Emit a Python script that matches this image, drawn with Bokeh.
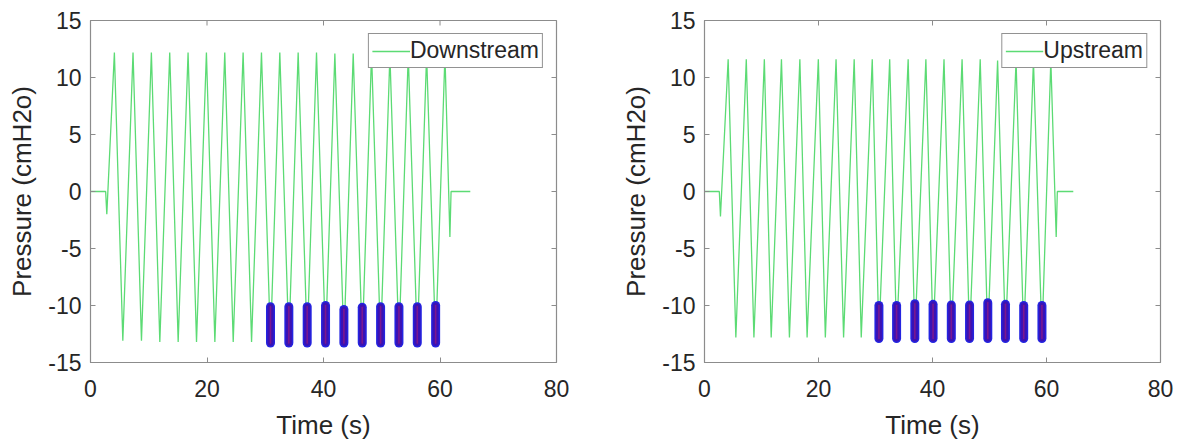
from bokeh.plotting import figure
from bokeh.layouts import row
from bokeh.models import FixedTicker, Legend, LegendItem, Range1d
from bokeh.embed import file_html
from bokeh.resources import INLINE

# ---------------- data ----------------
x_ticks = [0, 20, 40, 60, 80]
y_ticks = [-15, -10, -5, 0, 5, 10, 15]

# Downstream pressure trace (turning points, s / cmH2O)
down_t = [0, 2.6, 2.8, 4.1, 5.55, 7.3, 8.75, 10.45, 11.9, 13.6, 15.05, 16.75, 18.2,
          19.9, 21.35, 23.05, 24.5, 26.2, 27.65, 29.35, 30.9, 32.5, 34.05, 35.65,
          37.2, 38.8, 40.35, 41.95, 43.5, 45.1, 46.65, 48.25, 49.8, 51.4, 52.95,
          54.55, 56.1, 57.7, 59.25, 60.85, 61.7, 61.9, 65.2]
down_p = [0, 0, -2.0, 12.2, -13.1, 12.2, -13.1, 12.2, -13.2, 12.2, -13.2, 12.2, -13.2,
          12.2, -13.2, 12.2, -13.2, 12.2, -13.2, 12.2, -13.3, 12.2, -13.3, 12.2,
          -13.3, 12.2, -13.3, 12.1, -13.3, 12.1, -13.3, 12.1, -13.3, 12.0, -13.3,
          12.0, -13.3, 12.0, -13.3, 12.0, -4.0, 0, 0]
# Downstream detected trough samples (cluster centre, top, bottom)
down_cl_t = [30.9, 34.05, 37.2, 40.35, 43.5, 46.65, 49.8, 52.95, 56.1, 59.25]
down_cl_top = [-10.1, -10.1, -10.1, -10.0, -10.35, -10.15, -10.1, -10.1, -10.1, -10.0]
down_cl_bot = [-13.3, -13.3, -13.3, -13.3, -13.3, -13.3, -13.3, -13.3, -13.3, -13.3]

# Upstream pressure trace
up_t = [0, 2.6, 2.8, 4.15, 5.5, 7.33, 8.67, 10.5, 11.7, 13.5, 14.9, 16.73, 18.0,
        19.97, 21.2, 23.08, 24.4, 26.26, 27.5, 29.43, 30.6, 32.49, 33.7, 35.73,
        36.9, 38.84, 40.1, 42.02, 43.3, 45.19, 46.5, 48.37, 49.7, 51.42, 52.8,
        54.66, 56.0, 57.71, 59.2, 60.76, 61.7, 61.9, 64.7]
up_p = [0, 0, -2.2, 11.6, -12.8, 11.6, -12.8, 11.6, -12.8, 11.6, -12.8, 11.6, -12.8,
        11.6, -12.8, 11.6, -12.8, 11.6, -12.8, 11.6, -12.8, 11.6, -12.8, 11.6,
        -12.8, 11.6, -12.8, 11.6, -12.8, 11.6, -12.8, 11.6, -12.8, 11.5, -12.8,
        11.5, -12.8, 11.5, -12.8, 11.5, -4.0, 0, 0]
up_cl_t = [30.6, 33.7, 36.9, 40.1, 43.3, 46.5, 49.7, 52.8, 56.0, 59.2]
up_cl_top = [-10.0, -10.0, -9.85, -9.9, -9.95, -9.95, -9.75, -9.9, -10.0, -10.0]
up_cl_bot = [-12.9, -12.9, -12.9, -12.9, -12.9, -12.9, -12.9, -12.9, -12.9, -12.9]

FONT = "Liberation Sans"
TXT = "#262626"
AX = "#8c8c8c"
GREEN = "#5cdb74"
X_MIN, X_MAX, Y_MIN, Y_MAX = 0, 80, -15, 15


def make_panel(t, pr, cl_t, cl_top, cl_bot, label, width, b_left, b_right):
    p = figure(width=width, height=444, x_range=Range1d(X_MIN, X_MAX),
               y_range=Range1d(Y_MIN, Y_MAX),
               output_backend="svg", toolbar_location=None,
               min_border_left=b_left, min_border_right=b_right,
               min_border_top=20, min_border_bottom=82)
    p.xgrid.visible = False
    p.ygrid.visible = False
    p.outline_line_color = AX
    p.outline_line_width = 1.2
    p.background_fill_color = "white"
    p.border_fill_color = "white"

    line = p.line(t, pr, line_color=GREEN, line_width=1.3)
    p.segment(x0=cl_t, y0=cl_top, x1=cl_t, y1=cl_bot, line_color="#2424e0",
              line_width=9, line_cap="round")
    p.segment(x0=cl_t, y0=cl_top, x1=cl_t, y1=cl_bot, line_color="#3a12b4",
              line_width=6, line_cap="round")
    p.segment(x0=cl_t, y0=cl_top, x1=cl_t, y1=cl_bot, line_color="#7a1890",
              line_width=1.6, line_cap="round")

    # mirrored inward ticks on the top and right edges of the box
    frame_w = width - b_left - b_right
    dx = 5.0 * (X_MAX - X_MIN) / frame_w
    dy = 5.0 * (Y_MAX - Y_MIN) / (444 - 20 - 82)
    p.segment(x0=x_ticks, y0=[Y_MAX] * len(x_ticks), x1=x_ticks,
              y1=[Y_MAX - dy] * len(x_ticks), line_color=AX, line_width=1)
    p.segment(x0=[X_MAX] * len(y_ticks), y0=y_ticks, x1=[X_MAX - dx] * len(y_ticks),
              y1=y_ticks, line_color=AX, line_width=1)

    xo = {v: str(v) for v in x_ticks}
    yo = {v: str(v) for v in y_ticks}
    for ax, ticks, ov in ((p.xaxis[0], x_ticks, xo), (p.yaxis[0], y_ticks, yo)):
        ax.ticker = FixedTicker(ticks=ticks)
        ax.major_label_overrides = ov
        ax.minor_tick_line_color = None
        ax.major_tick_in = 5
        ax.major_tick_out = 0
        ax.major_tick_line_color = AX
        ax.axis_line_color = AX
        ax.major_label_text_font = FONT
        ax.major_label_text_font_size = "23px"
        ax.major_label_text_color = TXT
        ax.axis_label_text_font = FONT
        ax.axis_label_text_font_size = "26px"
        ax.axis_label_text_font_style = "normal"
        ax.axis_label_text_color = TXT
    p.xaxis[0].axis_label = "Time (s)"
    p.yaxis[0].axis_label = "Pressure (cmH2o)"
    p.xaxis[0].major_label_standoff = 17
    p.xaxis[0].axis_label_standoff = 10
    p.yaxis[0].major_label_standoff = 9
    p.yaxis[0].axis_label_standoff = 8

    leg = Legend(items=[LegendItem(label=label, renderers=[line])], location="top_right")
    leg.margin = 13
    leg.padding = 3
    leg.spacing = 0
    leg.glyph_width = 38
    leg.glyph_height = 26
    leg.label_height = 26
    leg.label_standoff = 0
    leg.label_text_font = FONT
    leg.label_text_font_size = "23px"
    leg.label_text_color = TXT
    leg.border_line_color = TXT
    leg.border_line_width = 1
    leg.background_fill_color = "white"
    leg.background_fill_alpha = 1
    p.add_layout(leg)
    return p


p1 = make_panel(down_t, down_p, down_cl_t, down_cl_top, down_cl_bot, "Downstream", 600, 90, 44)
p2 = make_panel(up_t, up_p, up_cl_t, up_cl_top, up_cl_bot, "Upstream", 578, 104, 18)
layout = row(p1, p2)

open("out.html", "w").write(file_html(layout, INLINE))
